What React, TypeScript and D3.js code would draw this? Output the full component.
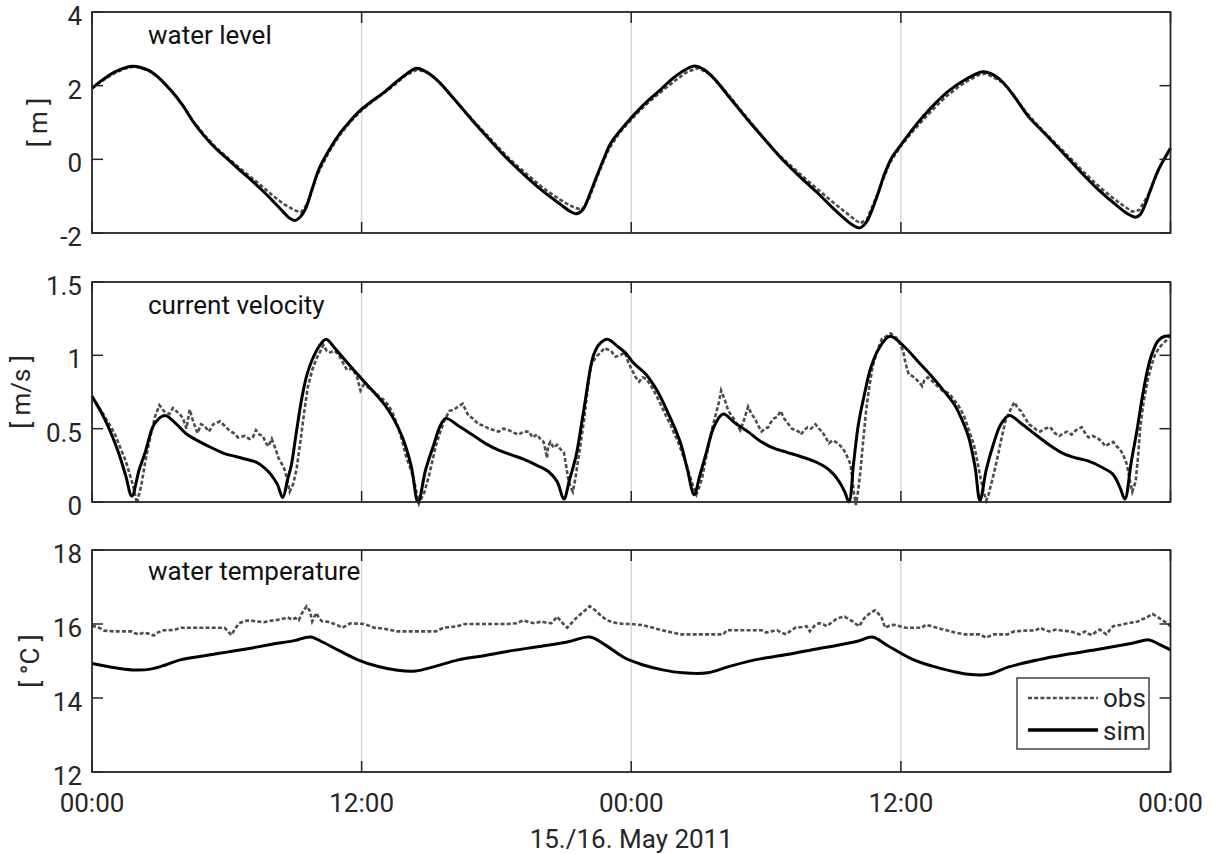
import React from 'react';
import * as d3 from 'd3';

type P = [number, number];

const xTickHours = [0, 12, 24, 36, 48];
const xTickLabels = ['00:00', '12:00', '00:00', '12:00', '00:00'];
const xAxisLabel = '15./16. May 2011';

const levelTicks = [-2, 0, 2, 4];
const velocityTicks = [0, 0.5, 1, 1.5];
const tempTicks = [12, 14, 16, 18];

const legendLabels = ['obs', 'sim'];

// water level [m] : [hour, value]
const simLevel: P[] = [[0,1.93],[0.5,2.17],[1,2.37],[1.77,2.53],[2.5,2.42],[3,2.2],[3.5,1.88],[4,1.5],[4.55,0.98],[5,0.63],[5.5,0.3],[6.09,-0.02],[6.5,-0.25],[7,-0.52],[7.64,-0.88],[8,-1.1],[8.5,-1.42],[8.8,-1.6],[9.03,-1.66],[9.25,-1.58],[9.49,-1.36],[9.8,-0.8],[10.11,-0.25],[10.5,0.2],[11.04,0.71],[11.5,1.05],[11.96,1.34],[12.5,1.6],[13.04,1.84],[13.5,2.08],[14,2.32],[14.44,2.47],[14.8,2.4],[15.36,2.15],[16,1.72],[16.91,1.07],[17.7,0.53],[18.46,0.03],[19.2,-0.4],[20,-0.83],[20.8,-1.2],[21.3,-1.42],[21.55,-1.48],[21.85,-1.36],[22.15,-0.95],[22.47,-0.45],[22.8,0.05],[23.09,0.44],[23.72,0.93],[24.5,1.45],[25.28,1.88],[26,2.27],[26.76,2.53],[27.2,2.45],[27.62,2.24],[28.4,1.66],[29.19,1.07],[30,0.5],[30.75,-0.02],[31.5,-0.47],[32.31,-0.92],[33,-1.34],[33.4,-1.56],[33.8,-1.76],[34.18,-1.86],[34.45,-1.72],[34.7,-1.4],[35,-0.9],[35.27,-0.4],[35.6,0.05],[36.06,0.44],[36.5,0.8],[36.99,1.16],[37.5,1.5],[38.09,1.84],[38.8,2.14],[39.65,2.38],[40.1,2.3],[40.59,2.06],[41.1,1.66],[41.68,1.16],[42.5,0.64],[43.24,0.16],[44,-0.34],[44.8,-0.83],[45.6,-1.25],[46.1,-1.48],[46.44,-1.57],[46.65,-1.5],[46.83,-1.29],[47.1,-0.85],[47.45,-0.3],[48,0.3]];

const obsLevel: P[] = [[0,1.93],[0.5,2.15],[1,2.34],[1.5,2.47],[1.9,2.52],[2.5,2.42],[3,2.2],[3.5,1.88],[4,1.5],[4.5,1.04],[5,0.66],[5.5,0.33],[6,0.06],[6.5,-0.2],[7,-0.45],[7.5,-0.7],[8,-0.96],[8.5,-1.2],[9,-1.38],[9.3,-1.44],[9.6,-1.2],[10,-0.45],[10.5,0.15],[11,0.64],[11.5,1.02],[12,1.33],[12.5,1.58],[13,1.8],[13.5,2.04],[14,2.3],[14.5,2.44],[15,2.34],[15.5,2.07],[16,1.72],[16.5,1.37],[17,1.03],[17.5,0.71],[18,0.38],[18.5,0.06],[19,-0.22],[19.5,-0.48],[20,-0.74],[20.5,-0.96],[21,-1.16],[21.5,-1.32],[21.8,-1.36],[22.1,-1.1],[22.5,-0.45],[23,0.28],[23.5,0.74],[24,1.08],[24.5,1.4],[25,1.67],[25.5,1.92],[26,2.16],[26.5,2.38],[27,2.48],[27.5,2.3],[28,1.99],[28.5,1.62],[29,1.24],[29.5,0.87],[30,0.5],[30.5,0.16],[31,-0.12],[31.5,-0.39],[32,-0.66],[32.5,-0.92],[33,-1.18],[33.5,-1.42],[34,-1.66],[34.2,-1.74],[34.5,-1.62],[35,-0.88],[35.5,-0.1],[36,0.36],[36.5,0.74],[37,1.08],[37.5,1.4],[38,1.7],[38.5,1.94],[39,2.14],[39.5,2.3],[39.8,2.33],[40.5,2.1],[41,1.76],[41.5,1.33],[42,0.98],[42.5,0.67],[43,0.36],[43.5,0.06],[44,-0.26],[44.5,-0.56],[45,-0.83],[45.5,-1.08],[46,-1.3],[46.3,-1.42],[46.6,-1.38],[47,-0.98],[47.5,-0.24],[48,0.3]];

// current velocity [m/s]
const simVelocity: P[] = [[0,0.72],[0.55,0.57],[1.15,0.35],[1.5,0.18],[1.77,0.04],[2.1,0.22],[2.39,0.35],[2.77,0.53],[3.24,0.59],[3.7,0.54],[4.24,0.46],[4.8,0.41],[5.32,0.37],[5.9,0.33],[6.4,0.31],[6.9,0.29],[7.33,0.27],[7.7,0.23],[7.95,0.19],[8.25,0.12],[8.49,0.03],[8.7,0.15],[8.87,0.25],[9.1,0.48],[9.34,0.71],[9.57,0.87],[9.8,0.97],[10.1,1.06],[10.42,1.11],[10.8,1.05],[11.19,0.98],[11.65,0.9],[12.12,0.82],[12.6,0.74],[13.04,0.66],[13.45,0.56],[13.82,0.44],[14.2,0.25],[14.51,0.0],[14.85,0.22],[15.21,0.39],[15.5,0.52],[15.75,0.57],[16.3,0.52],[16.91,0.46],[17.5,0.4],[18.15,0.35],[18.7,0.32],[19.23,0.29],[19.8,0.25],[20.3,0.21],[20.7,0.14],[21.0,0.02],[21.25,0.15],[21.55,0.32],[21.9,0.64],[22.32,1.0],[22.6,1.08],[22.94,1.11],[23.4,1.06],[23.72,1.02],[24.09,0.95],[24.66,0.87],[25.15,0.76],[25.6,0.62],[25.95,0.5],[26.22,0.39],[26.5,0.22],[26.8,0.05],[27.05,0.18],[27.31,0.32],[27.7,0.52],[28.09,0.6],[28.6,0.54],[29.19,0.48],[29.7,0.42],[30.28,0.37],[30.9,0.34],[31.53,0.31],[32.1,0.28],[32.62,0.24],[33.0,0.19],[33.25,0.14],[33.5,0.07],[33.69,0.0],[33.9,0.27],[34.11,0.53],[34.4,0.75],[34.65,0.91],[35.0,1.04],[35.51,1.13],[36.21,1.05],[36.75,0.96],[37.3,0.87],[37.85,0.77],[38.4,0.66],[38.75,0.55],[39.02,0.44],[39.3,0.24],[39.52,0.01],[39.8,0.22],[40.11,0.39],[40.45,0.53],[40.82,0.59],[41.4,0.53],[41.99,0.46],[42.6,0.39],[43.24,0.33],[43.8,0.3],[44.33,0.28],[44.9,0.24],[45.43,0.19],[45.75,0.1],[45.97,0.02],[46.25,0.27],[46.52,0.5],[46.75,0.72],[46.99,0.91],[47.2,1.02],[47.45,1.1],[47.75,1.13],[48,1.13]];

const obsVelocity: P[] = [[0,0.72],[0.5,0.6],[1.0,0.47],[1.5,0.28],[1.85,0.1],[2.0,-0.01],[2.2,0.12],[2.4,0.3],[2.62,0.46],[2.8,0.58],[3.0,0.66],[3.2,0.62],[3.45,0.6],[3.6,0.64],[3.9,0.6],[4.05,0.57],[4.2,0.5],[4.35,0.63],[4.5,0.55],[4.7,0.47],[4.85,0.53],[5.0,0.52],[5.2,0.48],[5.4,0.53],[5.7,0.55],[5.9,0.52],[6.1,0.49],[6.3,0.47],[6.5,0.44],[6.8,0.45],[7.0,0.43],[7.15,0.44],[7.3,0.49],[7.45,0.46],[7.6,0.45],[7.75,0.4],[7.85,0.38],[8.0,0.43],[8.15,0.37],[8.3,0.3],[8.45,0.26],[8.6,0.21],[8.7,0.14],[8.8,0.07],[8.95,0.12],[9.1,0.22],[9.3,0.44],[9.45,0.62],[9.6,0.78],[9.8,0.9],[10.0,0.98],[10.3,1.07],[10.45,1.03],[10.6,1.02],[10.8,1.03],[11.0,1.0],[11.2,0.94],[11.35,0.9],[11.6,0.91],[11.8,0.85],[11.95,0.76],[12.1,0.8],[12.3,0.78],[12.5,0.76],[12.7,0.73],[12.95,0.7],[13.2,0.66],[13.4,0.6],[13.6,0.52],[13.8,0.42],[14.0,0.3],[14.15,0.24],[14.3,0.17],[14.45,0.06],[14.55,-0.01],[14.8,0.07],[15.0,0.18],[15.15,0.28],[15.3,0.38],[15.5,0.48],[15.7,0.56],[15.9,0.62],[16.1,0.63],[16.3,0.65],[16.5,0.67],[16.65,0.62],[16.75,0.59],[16.95,0.57],[17.2,0.53],[17.45,0.52],[17.65,0.5],[17.9,0.49],[18.1,0.48],[18.3,0.5],[18.55,0.49],[18.8,0.47],[19.0,0.46],[19.2,0.48],[19.45,0.48],[19.6,0.44],[19.8,0.46],[19.95,0.43],[20.1,0.41],[20.2,0.34],[20.25,0.3],[20.3,0.38],[20.4,0.41],[20.55,0.37],[20.7,0.39],[20.85,0.36],[21.0,0.34],[21.1,0.25],[21.2,0.15],[21.3,0.1],[21.4,0.07],[21.5,0.15],[21.6,0.25],[21.75,0.4],[21.9,0.56],[22.05,0.76],[22.2,0.93],[22.35,0.97],[22.5,1.0],[22.65,1.02],[22.8,1.05],[22.95,1.04],[23.1,1.03],[23.3,0.99],[23.5,1.0],[23.72,1.02],[23.85,0.96],[24.0,0.91],[24.2,0.85],[24.35,0.82],[24.5,0.85],[24.66,0.84],[24.85,0.8],[25.0,0.76],[25.2,0.7],[25.45,0.62],[25.6,0.57],[25.75,0.53],[25.9,0.47],[26.06,0.42],[26.25,0.34],[26.45,0.26],[26.6,0.18],[26.77,0.1],[26.9,0.05],[27.0,0.09],[27.15,0.16],[27.3,0.28],[27.45,0.39],[27.6,0.5],[27.75,0.59],[27.9,0.68],[28.0,0.76],[28.1,0.72],[28.2,0.68],[28.3,0.63],[28.45,0.59],[28.6,0.56],[28.7,0.53],[28.85,0.49],[29.0,0.55],[29.2,0.65],[29.35,0.6],[29.5,0.57],[29.65,0.52],[29.8,0.48],[29.95,0.5],[30.1,0.51],[30.2,0.54],[30.35,0.57],[30.5,0.58],[30.65,0.62],[30.8,0.57],[31.0,0.53],[31.15,0.5],[31.3,0.49],[31.45,0.48],[31.55,0.46],[31.7,0.49],[31.85,0.51],[32.0,0.5],[32.2,0.53],[32.35,0.5],[32.5,0.48],[32.65,0.44],[32.8,0.4],[32.95,0.42],[33.1,0.41],[33.25,0.39],[33.4,0.37],[33.55,0.33],[33.75,0.26],[33.85,0.15],[33.9,0.07],[34.0,-0.02],[34.1,0.08],[34.2,0.21],[34.3,0.38],[34.45,0.62],[34.6,0.79],[34.75,0.93],[34.95,1.03],[35.15,1.11],[35.35,1.13],[35.55,1.15],[35.7,1.13],[35.8,1.12],[35.95,1.08],[36.1,1.03],[36.2,0.95],[36.35,0.87],[36.5,0.86],[36.65,0.84],[36.8,0.82],[36.95,0.79],[37.05,0.83],[37.2,0.85],[37.35,0.83],[37.5,0.81],[37.7,0.78],[37.85,0.76],[38.0,0.75],[38.15,0.74],[38.35,0.7],[38.55,0.66],[38.7,0.62],[38.85,0.57],[39.05,0.48],[39.25,0.39],[39.4,0.28],[39.55,0.16],[39.7,0.06],[39.8,0.01],[39.9,0.05],[40.0,0.11],[40.15,0.2],[40.35,0.34],[40.5,0.45],[40.65,0.55],[40.85,0.62],[41.05,0.68],[41.2,0.64],[41.35,0.62],[41.5,0.58],[41.7,0.53],[41.9,0.51],[42.05,0.49],[42.2,0.48],[42.4,0.5],[42.65,0.51],[42.85,0.47],[43.05,0.45],[43.25,0.47],[43.4,0.48],[43.6,0.46],[43.8,0.49],[44.05,0.51],[44.2,0.47],[44.35,0.44],[44.55,0.45],[44.8,0.43],[44.95,0.41],[45.1,0.38],[45.3,0.4],[45.45,0.41],[45.6,0.38],[45.75,0.36],[45.9,0.32],[46.05,0.26],[46.2,0.14],[46.3,0.07],[46.45,0.14],[46.55,0.3],[46.65,0.5],[46.8,0.68],[47.0,0.84],[47.15,0.93],[47.3,1.0],[47.45,1.04],[47.6,1.07],[47.8,1.1],[48,1.15]];

// water temperature [°C]
const simTemp: P[] = [[0,14.93],[0.8,14.84],[1.8,14.76],[2.6,14.78],[3.3,14.9],[3.93,15.03],[5,15.14],[6,15.24],[7,15.34],[8,15.45],[9,15.55],[9.72,15.65],[10.3,15.5],[11,15.28],[11.8,15.04],[12.7,14.86],[13.6,14.75],[14.4,14.73],[15.2,14.84],[16.3,15.03],[17.5,15.15],[18.7,15.28],[20,15.4],[21.2,15.52],[22.16,15.65],[22.8,15.45],[23.72,15.08],[24.5,14.9],[25.4,14.76],[26.3,14.68],[27.4,14.68],[28.3,14.84],[29.5,15.03],[30.8,15.16],[32,15.3],[33.3,15.44],[34.1,15.54],[34.73,15.65],[35.4,15.42],[36.5,15.05],[37.4,14.86],[38.3,14.72],[39,14.64],[39.9,14.64],[40.8,14.84],[42.1,15.03],[43.4,15.18],[44.8,15.32],[46.3,15.48],[47.05,15.57],[47.5,15.45],[48,15.3]];

const obsTemp: P[] = [[0,15.95],[0.25,15.92],[0.55,15.82],[1.0,15.8],[1.5,15.8],[1.77,15.8],[1.95,15.74],[2.1,15.72],[2.3,15.77],[2.5,15.74],[2.75,15.69],[2.95,15.78],[3.2,15.83],[3.65,15.84],[3.97,15.9],[4.5,15.9],[5.0,15.9],[5.5,15.9],[5.9,15.9],[6.05,15.8],[6.2,15.7],[6.4,15.9],[6.55,16.02],[6.8,16.08],[7.0,16.1],[7.3,16.07],[7.65,16.05],[7.95,16.09],[8.25,16.11],[8.5,16.14],[8.7,16.18],[8.9,16.12],[9.05,16.16],[9.2,16.1],[9.35,16.3],[9.55,16.48],[9.7,16.35],[9.8,16.07],[9.9,16.2],[10.0,16.3],[10.1,16.15],[10.25,16.07],[10.5,16.06],[10.7,16.02],[10.95,15.96],[11.15,15.9],[11.35,15.97],[11.5,16.02],[11.8,16.01],[12.1,16.0],[12.35,15.95],[12.55,15.9],[12.9,15.88],[13.2,15.85],[13.6,15.8],[14.0,15.8],[14.5,15.8],[15.0,15.8],[15.3,15.8],[15.65,15.9],[16.0,15.92],[16.25,15.94],[16.6,16.0],[17.0,16.0],[17.5,16.0],[18.0,16.0],[18.5,16.0],[18.9,16.02],[19.2,16.1],[19.45,16.05],[19.7,16.02],[20.0,16.07],[20.25,16.03],[20.45,16.02],[20.7,16.2],[20.9,16.05],[21.15,15.9],[21.35,16.03],[21.55,16.16],[21.85,16.32],[22.15,16.48],[22.3,16.42],[22.45,16.34],[22.7,16.2],[22.9,16.11],[23.15,16.05],[23.4,16.02],[23.7,16.0],[24.0,16.0],[24.5,15.97],[24.97,15.9],[25.3,15.84],[25.6,15.8],[25.9,15.76],[26.2,15.72],[26.8,15.72],[27.5,15.72],[28.1,15.72],[28.25,15.83],[28.8,15.83],[29.3,15.83],[29.8,15.83],[30.0,15.77],[30.2,15.8],[30.5,15.83],[30.7,15.76],[30.9,15.72],[31.1,15.82],[31.3,15.9],[31.6,15.92],[31.8,15.94],[31.95,15.8],[32.15,15.95],[32.35,16.02],[32.55,15.99],[32.7,15.94],[32.95,16.06],[33.2,16.16],[33.5,16.2],[33.7,16.12],[33.85,16.07],[34.0,16.0],[34.15,15.94],[34.3,16.1],[34.45,16.21],[34.65,16.3],[34.85,16.37],[35.0,16.28],[35.15,16.16],[35.3,15.9],[35.5,15.96],[35.7,15.98],[35.95,15.94],[36.2,15.9],[36.6,15.9],[36.95,15.9],[37.1,15.98],[37.3,15.95],[37.6,15.9],[37.9,15.85],[38.2,15.8],[38.5,15.76],[38.85,15.72],[39.2,15.72],[39.5,15.72],[39.8,15.63],[40.1,15.72],[40.4,15.72],[40.75,15.72],[41.05,15.8],[41.5,15.82],[42.0,15.83],[42.2,15.9],[42.4,15.84],[42.6,15.8],[42.9,15.85],[43.2,15.82],[43.55,15.8],[43.75,15.76],[43.95,15.72],[44.2,15.8],[44.35,15.74],[44.5,15.7],[44.7,15.8],[44.85,15.85],[45.0,15.78],[45.15,15.72],[45.3,15.84],[45.45,15.94],[45.8,15.98],[46.1,16.02],[46.35,16.05],[46.55,16.07],[46.7,16.12],[46.9,16.16],[47.05,16.22],[47.2,16.27],[47.35,16.22],[47.5,16.16],[47.7,16.08],[47.85,16.02],[48,15.94]];

const FONT = "Roboto, 'Open Sans', 'DejaVu Sans', sans-serif";
const TXT = '#262626';
const OBS_COLOR = '#4d4d4d';
const OBS_DASH = '4,2.2';

export default function App() {
  const W = 1212;
  const H = 854;
  const left = 92;
  const right = 1170.5;
  const x = d3.scaleLinear().domain([0, 48]).range([left, right]);
  const tickLen = 11;

  const panels = [
    { title: 'water level', titleY: 44, ylabel: '[ m ]', ylabelX: 47, top: 12, bottom: 233, domain: [-2, 4], ticks: levelTicks, obs: obsLevel, sim: simLevel },
    { title: 'current velocity', titleY: 314, ylabel: '[ m/s ]', ylabelX: 30, top: 282, bottom: 502, domain: [0, 1.5], ticks: velocityTicks, obs: obsVelocity, sim: simVelocity },
    { title: 'water temperature', titleY: 580, ylabel: '[ °C ]', ylabelX: 39, top: 550, bottom: 772, domain: [12, 18], ticks: tempTicks, obs: obsTemp, sim: simTemp },
  ];

  return (
    <svg width={W} height={H} style={{ position: 'absolute', left: 0, top: 0, background: '#fff' }} fontFamily={FONT}>
      <rect x={0} y={0} width={W} height={H} fill="#fff" />
      {panels.map((p, i) => {
        const y = d3.scaleLinear().domain(p.domain).range([p.bottom, p.top]);
        const simLine = d3.line<P>().x(d => x(d[0])).y(d => y(d[1])).curve(d3.curveCatmullRom.alpha(0.5));
        const obsLine = d3.line<P>().x(d => x(d[0])).y(d => y(d[1]));
        const mid = (p.top + p.bottom) / 2;
        return (
          <g key={i}>
            {xTickHours.slice(1, -1).map((h, k) => (
              <line key={'g' + k} x1={x(h)} x2={x(h)} y1={p.top} y2={p.bottom} stroke="#d8d8d8" strokeWidth={1.5} />
            ))}
            <path d={obsLine(p.obs) || ''} fill="none" stroke={OBS_COLOR} strokeWidth={2.6} strokeDasharray={OBS_DASH} />
            <path d={simLine(p.sim) || ''} fill="none" stroke="#000" strokeWidth={3} strokeLinejoin="round" />
            <rect x={left} y={p.top} width={right - left} height={p.bottom - p.top} fill="none" stroke={TXT} strokeWidth={1.8} />
            {p.ticks.map((t, k) => (
              <g key={'yt' + k}>
                <line x1={left} x2={left + tickLen} y1={y(t)} y2={y(t)} stroke={TXT} strokeWidth={1.5} />
                <line x1={right - tickLen} x2={right} y1={y(t)} y2={y(t)} stroke={TXT} strokeWidth={1.5} />
                <text x={left - 10} y={y(t)} dy="0.5em" textAnchor="end" fontSize={26} fill={TXT}>{String(t)}</text>
              </g>
            ))}
            {xTickHours.map((h, k) => (
              <g key={'xt' + k}>
                <line x1={x(h)} x2={x(h)} y1={p.bottom} y2={p.bottom - tickLen} stroke={TXT} strokeWidth={1.5} />
                <line x1={x(h)} x2={x(h)} y1={p.top} y2={p.top + tickLen} stroke={TXT} strokeWidth={1.5} />
              </g>
            ))}
            <text x={148} y={p.titleY} fontSize={26} fill="#111">{p.title}</text>
            <text transform={`translate(${p.ylabelX},${mid}) rotate(-90)`} textAnchor="middle" fontSize={26} fill={TXT}>{p.ylabel}</text>
            {i === 2 && xTickHours.map((h, k) => (
              <text key={'xl' + k} x={x(h)} y={812} textAnchor="middle" fontSize={26} fill={TXT}>{xTickLabels[k]}</text>
            ))}
          </g>
        );
      })}
      <text x={(left + right) / 2} y={848} textAnchor="middle" fontSize={26} fill={TXT}>{xAxisLabel}</text>
      <g>
        <rect x={1017} y={678} width={132} height={71} fill="#fff" stroke={TXT} strokeWidth={1.3} />
        <line x1={1028} x2={1098} y1={698} y2={698} stroke={OBS_COLOR} strokeWidth={2.6} strokeDasharray={OBS_DASH} />
        <text x={1103} y={707} fontSize={26} fill={TXT}>{legendLabels[0]}</text>
        <line x1={1028} x2={1098} y1={730} y2={730} stroke="#000" strokeWidth={3.5} />
        <text x={1103} y={740} fontSize={26} fill={TXT}>{legendLabels[1]}</text>
      </g>
    </svg>
  );
}
